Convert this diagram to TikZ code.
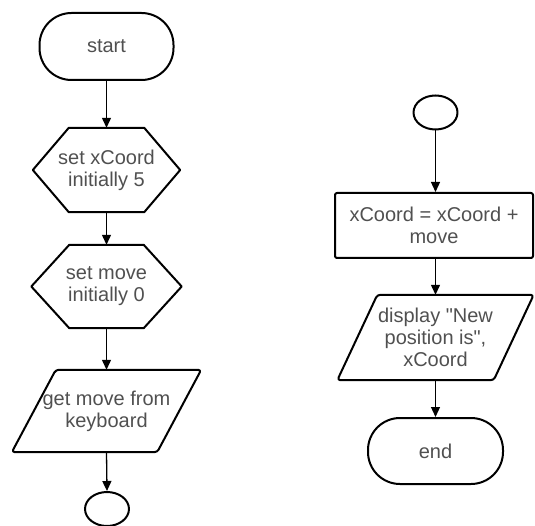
\documentclass[tikz,border=0pt]{standalone}
\usepackage{fontspec}
\newfontfamily\labelfont{Liberation Sans}
\usetikzlibrary{arrows.meta,shapes.geometric}
\definecolor{txt}{HTML}{505050}
\begin{document}
\begin{tikzpicture}[x=1pt,y=-1pt,
  label text/.style={align=center,text=txt,font=\labelfont\fontsize{20}{22}\selectfont,inner sep=0pt},
  outline/.style={line width=2pt,line join=round,draw=black},
  terminal/.style={label text,outline,rounded corners=32pt},
  process/.style={label text,outline,rounded corners=2pt},
  connector/.style={outline,ellipse,inner sep=0pt,minimum width=44pt,minimum height=34pt},
  frame/.style={label text,draw=none},
  flow/.style={line width=1.3pt,-{Triangle[width=9pt,length=10pt]}}]
\useasboundingbox (0,0) rectangle (535,526);

% left column
\node[terminal,minimum width=134pt,minimum height=67pt] (start) at (106.5,46.5) {start};
\node[frame,minimum width=147pt,minimum height=84pt] (setx) at (106.5,170) {set xCoord\\initially 5};
\draw[outline] ([xshift=36pt]setx.north west) -- ([xshift=-36pt]setx.north east) -- (setx.east)
  -- ([xshift=-36pt]setx.south east) -- ([xshift=36pt]setx.south west) -- (setx.west) -- cycle;
\node[frame,minimum width=150pt,minimum height=83pt] (setm) at (106.5,286.5) {set move\\initially 0};
\draw[outline] ([xshift=38pt]setm.north west) -- ([xshift=-38pt]setm.north east) -- (setm.east)
  -- ([xshift=-38pt]setm.south east) -- ([xshift=38pt]setm.south west) -- (setm.west) -- cycle;
\node[frame,minimum width=145pt,minimum height=82pt] (getm) at (106.5,411) {get move from\\keyboard};
\draw[outline,rounded corners=3pt] ([xshift=22pt]getm.north west) -- ([xshift=22pt]getm.north east)
  -- ([xshift=-22pt]getm.south east) -- ([xshift=-22pt]getm.south west) -- cycle;
\node[connector] (outc) at (107,509) {};

\draw[flow] (start.south) -- (setx.north);
\draw[flow] (setx.south) -- (setm.north);
\draw[flow] (setm.south) -- (getm.north);
\draw[flow] (getm.south) -- (outc.north);

% right column
\node[connector] (inc) at (435.5,112.5) {};
\node[process,minimum width=198pt,minimum height=65pt] (upd) at (434,225.5) {xCoord = xCoord +\\move};
\node[frame,minimum width=156pt,minimum height=85pt] (disp) at (435.5,337.5) {display "New\\position is",\\xCoord};
\draw[outline,rounded corners=3pt] ([xshift=20pt]disp.north west) -- ([xshift=20pt]disp.north east)
  -- ([xshift=-20pt]disp.south east) -- ([xshift=-20pt]disp.south west) -- cycle;
\node[terminal,minimum width=135pt,minimum height=66pt] (stop) at (435.5,451) {end};

\draw[flow] (inc.south) -- (inc.south |- upd.north);
\draw[flow] (inc.south |- upd.south) -- (disp.north);
\draw[flow] (disp.south) -- (stop.north);
\end{tikzpicture}
\end{document}
